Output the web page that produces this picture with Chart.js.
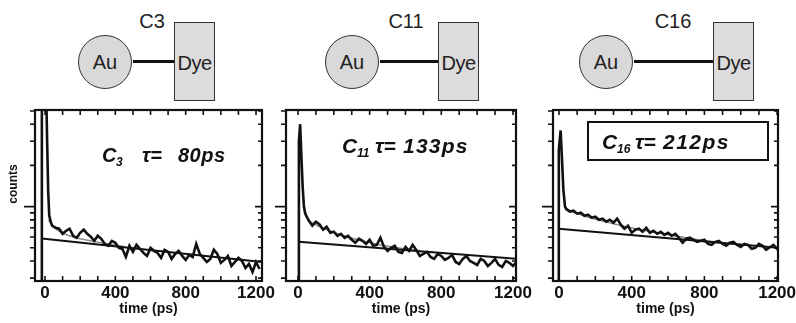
<!DOCTYPE html>
<html>
<head>
<meta charset="utf-8">
<script src="https://cdn.jsdelivr.net/npm/chart.js@4.4.1/dist/chart.umd.min.js"></script>
<style>
  body { margin: 0; background: #fff; }
  #fig { position: relative; width: 796px; height: 323px; overflow: hidden;
         font-family: "Liberation Sans", Arial, sans-serif; color: #222; }
  #fig canvas { position: absolute; top: 100px; }
  .au { position: absolute; top: 35px; width: 52px; height: 52px; border-radius: 50%;
        background: #d9d9d9; border: 1.5px solid #333; font-size: 20px; line-height: 52px; text-align: center; }
  .dye { position: absolute; top: 22px; width: 39px; height: 77px; background: #dcdcdc;
         border: 1.5px solid #333; font-size: 20px; line-height: 80px; text-align: center; letter-spacing: -0.5px; }
  .chain { position: absolute; top: 60px; height: 3px; background: #111; }
  .name { position: absolute; top: 10px; font-size: 20px; line-height: 23px; transform: translateX(-50%); }
</style>
</head>
<body>
<div id="fig">
  <!-- Au particle, alkyl chain, dye for each chain length -->
  <div class="chain" style="left:133px;width:42px"></div>
  <div class="au" style="left:78px">Au</div>
  <div class="dye" style="left:174px">Dye</div>
  <div class="name" style="left:152px">C3</div>

  <div class="chain" style="left:380px;width:58px"></div>
  <div class="au" style="left:325px">Au</div>
  <div class="dye" style="left:438px">Dye</div>
  <div class="name" style="left:406px">C11</div>

  <div class="chain" style="left:634px;width:79px"></div>
  <div class="au" style="left:579px">Au</div>
  <div class="dye" style="left:713px">Dye</div>
  <div class="name" style="left:673px">C16</div>

  <canvas id="c3" width="284" height="223" style="left:0px"></canvas>
  <canvas id="c11" width="272" height="223" style="left:266px"></canvas>
  <canvas id="c16" width="265" height="223" style="left:533px"></canvas>
</div>
<script>
// time grid (ps) for the decay tails
const gridTimes = [40, 60, 80, 100, 120, 140, 160, 180, 200, 220,
  240, 260, 280, 300, 320, 340, 360, 380, 400, 420,
  440, 460, 480, 500, 520, 540, 560, 580, 600, 620,
  640, 660, 680, 700, 720, 740, 760, 780, 800, 820,
  840, 860, 880, 900, 920, 940, 960, 980, 1000, 1020,
  1040, 1060, 1080, 1100, 1120, 1140, 1160, 1180, 1200, 1220];

// C3
const c3SpikeTime = [-20, -18, 5, 12, 18, 24, 32];
const c3SpikeCounts = [200, 9000, 9000, 3000, 1300, 860, 780];
const c3Counts = [725, 701, 689, 633, 666, 689, 612, 592, 644, 678,
  633, 602, 562, 612, 582, 534, 517, 562, 544, 499,
  491, 429, 517, 467, 525, 491, 459, 436, 499, 475,
  459, 422, 483, 467, 415, 451, 475, 436, 408, 444,
  429, 534, 451, 422, 394, 415, 483, 451, 388, 408,
  436, 368, 394, 422, 401, 356, 381, 333, 394, 350];
const c3FitTime = [20, 40, 60, 80, 100, 130, 160, 200, 250, 300, 350, 400, 450];
const c3FitCounts = [800, 730, 690, 662, 640, 618, 600, 582, 565, 550, 535, 522, 512];
const c3SlowTime = [-18, 1234];
const c3SlowCounts = [585, 393];

// C11
const c11SpikeTime = [3, 5, 12, 18, 26, 33];
const c11SpikeCounts = [200, 3000, 4000, 2500, 1400, 1000];
const c11Counts = [888, 789, 725, 776, 740, 678, 713, 644, 655, 612,
  633, 592, 612, 572, 544, 582, 562, 534, 572, 517,
  525, 592, 508, 475, 499, 517, 467, 459, 508, 475,
  525, 483, 436, 451, 467, 429, 415, 451, 436, 408,
  422, 444, 394, 381, 415, 436, 401, 388, 375, 415,
  401, 368, 388, 415, 375, 362, 401, 388, 368, 395];
const c11FitTime = [30, 50, 70, 100, 140, 180, 230, 280, 340, 400, 460, 520, 600, 680];
const c11FitCounts = [1050, 830, 775, 735, 695, 662, 628, 598, 570, 546, 525, 508, 490, 475];
const c11SlowTime = [3, 1217];
const c11SlowCounts = [553, 416];

// C16
const c16SpikeTime = [-3, -1, 9, 16, 24, 33];
const c16SpikeCounts = [200, 2600, 3600, 2300, 1330, 1000];
const c16Counts = [960, 919, 934, 888, 903, 858, 873, 830, 844, 802,
  816, 776, 802, 763, 816, 737, 689, 725, 644, 678,
  689, 655, 701, 644, 666, 633, 655, 622, 644, 612,
  633, 592, 544, 582, 592, 572, 553, 562, 572, 534,
  525, 553, 562, 534, 517, 544, 553, 525, 508, 534,
  525, 491, 499, 534, 517, 483, 505, 525, 491, 505];
const c16FitTime = [24, 33, 50, 80, 120, 170, 230, 300, 370, 450, 530, 620, 720, 820, 920];
const c16FitCounts = [1330, 1000, 950, 910, 870, 830, 790, 748, 712, 678, 648, 618, 585, 560, 540];
const c16SlowTime = [-2, 1205];
const c16SlowCounts = [690, 500];

// axis ticks
const timeLabels = [0, 400, 800, 1200];
const timeTicks = [0, 100, 200, 300, 400, 500, 600, 700, 800, 900, 1000, 1100, 1200];
const countTicks = [300, 400, 500, 600, 700, 800, 900, 1000, 2000, 3000, 4000, 5000];
const countMajor = 1000;

const chainSubs = ['3', '11', '16'];
const lifetimes = [80, 133, 212];

const FONT = '"Liberation Sans", Arial, sans-serif';
Chart.defaults.font.family = FONT;
Chart.defaults.color = '#111';

function points(ts, cs) {
  return ts.map((t, k) => ({ x: t, y: cs[k] }));
}

// box, inward ticks, outward left ticks and the in-plot label
const frame = {
  id: 'frame',
  afterDraw(chart, args, opts) {
    const { ctx, chartArea: a, scales: { x, y } } = chart;
    ctx.save();
    ctx.strokeStyle = '#111';
    ctx.lineWidth = 1.6;
    ctx.beginPath();
    timeTicks.forEach(t => {
      const px = x.getPixelForValue(t);
      ctx.moveTo(px, a.bottom); ctx.lineTo(px, a.bottom - 5);
      ctx.moveTo(px, a.top); ctx.lineTo(px, a.top + 5);
    });
    countTicks.forEach(c => {
      const py = y.getPixelForValue(c);
      const major = c === countMajor;
      ctx.moveTo(a.left, py); ctx.lineTo(a.left - (major ? 11 : 5), py);
      ctx.moveTo(a.right, py); ctx.lineTo(a.right - (major ? 7 : 4), py);
    });
    ctx.stroke();
    ctx.lineWidth = 2.2;
    ctx.strokeRect(a.left, a.top, a.width, a.height);

    const lab = opts.label;
    const base = a.top + lab.dy;
    ctx.fillStyle = '#111';
    ctx.textBaseline = 'alphabetic';
    ctx.font = 'italic bold ' + lab.size + 'px ' + FONT;
    ctx.fillText('C', a.left + lab.cx, base);
    ctx.fillText('\u03c4=', a.left + lab.tx, base);
    ctx.letterSpacing = lab.spacing + 'px';
    ctx.fillText(lab.tau + 'ps', a.left + lab.vx, base);
    ctx.letterSpacing = '0px';
    ctx.font = 'italic bold 12px ' + FONT;
    ctx.fillText(lab.sub, a.left + lab.sx, base + 4);
    if (lab.box) {
      ctx.lineWidth = 2;
      ctx.strokeRect(a.left + lab.box[0], a.top + lab.box[1], lab.box[2], lab.box[3]);
    }

    if (opts.counts) {
      ctx.translate(a.left - 21, a.top + 74);
      ctx.rotate(-Math.PI / 2);
      ctx.font = 'bold 12px ' + FONT;
      ctx.textAlign = 'center';
      ctx.textBaseline = 'middle';
      ctx.fillText('counts', 0, 0);
    }
    ctx.restore();
  }
};

function makePanel(id, p) {
  return new Chart(document.getElementById(id), {
    type: 'line',
    data: {
      datasets: [
        { data: points(p.spikeTime.concat(gridTimes), p.spikeCounts.concat(p.counts)),
          borderColor: '#111', borderWidth: 2.6 },
        { data: points(p.slowTime, p.slowCounts), borderColor: '#111', borderWidth: 2 },
        { data: points(p.fitTime, p.fitCounts), borderColor: '#8a8a8a', borderWidth: 1.5 }
      ]
    },
    options: {
      responsive: false,
      animation: false,
      devicePixelRatio: 1,
      elements: { point: { radius: 0 }, line: { tension: 0, fill: false } },
      layout: { padding: p.padding },
      plugins: {
        legend: { display: false },
        tooltip: { enabled: false },
        frame: { label: p.label, counts: p.showCounts }
      },
      scales: {
        x: {
          type: 'linear',
          bounds: 'data',
          min: p.tMin,
          max: p.tMax,
          grid: { display: false },
          border: { display: false },
          afterBuildTicks(scale) {
            scale.ticks = timeLabels.map(v => ({ value: v }));
          },
          ticks: {
            autoSkip: false,
            maxRotation: 0,
            padding: -6,
            font: { size: 17, weight: 'bold' },
            callback: v => String(v)
          },
          title: {
            display: true,
            text: 'time (ps)',
            font: { size: 14, weight: 'bold' },
            padding: { top: 0, bottom: 5 }
          },
          afterFit(scale) { scale.height = 42; }
        },
        y: {
          type: 'logarithmic',
          bounds: 'data',
          min: 286,
          max: 5080,
          display: false
        }
      }
    },
    plugins: [frame]
  });
}

makePanel('c3', {
  spikeTime: c3SpikeTime, spikeCounts: c3SpikeCounts, counts: c3Counts,
  fitTime: c3FitTime, fitCounts: c3FitCounts, slowTime: c3SlowTime, slowCounts: c3SlowCounts,
  tMin: -57, tMax: 1234,
  padding: { left: 35, right: 22, top: 10, bottom: 0 },
  label: { size: 20, spacing: 0.5, cx: 67, sx: 81, tx: 107, vx: 143, dy: 52, sub: chainSubs[0], tau: lifetimes[0] },
  showCounts: true
});

makePanel('c11', {
  spikeTime: c11SpikeTime, spikeCounts: c11SpikeCounts, counts: c11Counts,
  fitTime: c11FitTime, fitCounts: c11FitCounts, slowTime: c11SlowTime, slowCounts: c11SlowCounts,
  tMin: -67, tMax: 1217,
  padding: { left: 20, right: 22, top: 10, bottom: 0 },
  label: { size: 21, spacing: 1.2, cx: 56, sx: 71, tx: 89, vx: 117, dy: 43, sub: chainSubs[1], tau: lifetimes[1] }
});

makePanel('c16', {
  spikeTime: c16SpikeTime, spikeCounts: c16SpikeCounts, counts: c16Counts,
  fitTime: c16FitTime, fitCounts: c16FitCounts, slowTime: c16SlowTime, slowCounts: c16SlowCounts,
  tMin: -33, tMax: 1205,
  padding: { left: 20, right: 20, top: 10, bottom: 0 },
  label: { size: 21, spacing: 1.5, cx: 49, sx: 64, tx: 82, vx: 110, dy: 39, sub: chainSubs[2], tau: lifetimes[2], box: [35, 12, 180, 38] }
});
</script>
</body>
</html>
